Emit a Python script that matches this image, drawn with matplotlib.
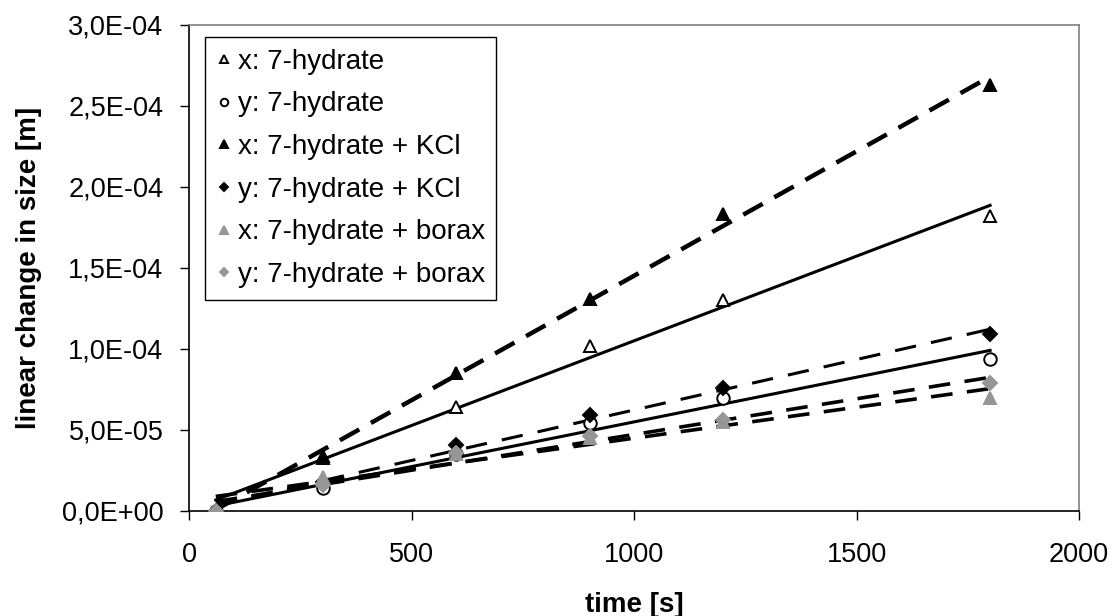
import numpy as np
import matplotlib
matplotlib.use("Agg")
import matplotlib.pyplot as plt
from matplotlib.ticker import FuncFormatter

plt.rcParams['font.family'] = ['Liberation Sans', 'DejaVu Sans']

# measurement times [s]
t = [60, 300, 600, 900, 1200, 1800]

# linear change in size [m]
x_7h = [0, 3.3e-5, 6.4e-5, 1.02e-4, 1.30e-4, 1.82e-4]
y_7h = [0, 1.4e-5, 3.5e-5, 5.4e-5, 7.0e-5, 9.4e-5]
x_kcl = [0, 3.4e-5, 8.5e-5, 1.31e-4, 1.83e-4, 2.63e-4]
y_kcl = [0, 1.8e-5, 4.1e-5, 5.9e-5, 7.6e-5, 1.09e-4]
x_borax = [0, 2.1e-5, 3.5e-5, 4.5e-5, 5.5e-5, 7.0e-5]
y_borax = [0, 1.6e-5, 3.6e-5, 4.6e-5, 5.6e-5, 7.9e-5]

labels = ["x: 7-hydrate", "y: 7-hydrate", "x: 7-hydrate + KCl",
          "y: 7-hydrate + KCl", "x: 7-hydrate + borax", "y: 7-hydrate + borax"]

grey = "#969696"
# (data, marker, face, edge, trend style, trend width)
series = [
    (x_7h, "^", "white", "black", "-", 2.2),
    (y_7h, "o", "white", "black", "-", 2.2),
    (x_kcl, "^", "black", "black", (0, (5, 3)), 3.2),
    (y_kcl, "D", "black", "black", (0, (7, 5)), 2.2),
    (x_borax, "^", grey, grey, (0, (6, 4)), 2.6),
    (y_borax, "D", grey, grey, (0, (6, 4)), 2.6),
]

fig = plt.figure(figsize=(11.12, 6.16), dpi=100)
ax = fig.add_axes([0.170, 0.1705, 0.8004, 0.789])

tt = np.array(t, dtype=float)
for (vals, mk, fc, ec, ls, lw), lab in zip(series, labels):
    ms = 7 if mk == "D" else 9
    ax.plot(t, vals, linestyle="none", marker=mk, markersize=ms,
            markerfacecolor=fc, markeredgecolor=ec, markeredgewidth=1.4,
            label=lab, zorder=3)
    # linear trend line like a spreadsheet trendline
    k, b = np.polyfit(tt, np.array(vals), 1)
    xs = np.array([tt.min(), tt.max()])
    ax.plot(xs, k * xs + b, color="black", linestyle=ls, linewidth=lw, zorder=2)

ax.set_xlim(0, 2000)
ax.set_ylim(0, 3.0e-4)
ax.set_xticks([0, 500, 1000, 1500, 2000])
ax.set_yticks(np.arange(0, 3.01e-4, 5e-5))
ax.yaxis.set_major_formatter(FuncFormatter(lambda v, p: f"{v:.1E}".replace(".", ",")))
ax.tick_params(direction="out", length=6.5, width=1, labelsize=19.5)
ax.tick_params(axis="x", pad=16)
ax.tick_params(axis="y", pad=12)

ax.spines["top"].set_color("#808080")
ax.spines["right"].set_color("#808080")
for s in ax.spines.values():
    s.set_linewidth(1.2)

ax.set_xlabel("time [s]", fontsize=20, fontweight="bold", labelpad=17)
ax.set_ylabel("linear change in size [m]", fontsize=20, fontweight="bold", labelpad=14)

leg = ax.legend(loc="upper left", bbox_to_anchor=(0.018, 0.975), fontsize=20,
                markerscale=0.6, handlelength=0.55, handletextpad=0.2,
                labelspacing=0.6, borderpad=0.42, borderaxespad=0,
                fancybox=False, framealpha=1, edgecolor="black")
leg.get_frame().set_linewidth(1.0)

fig.savefig("out.png", dpi=100)
